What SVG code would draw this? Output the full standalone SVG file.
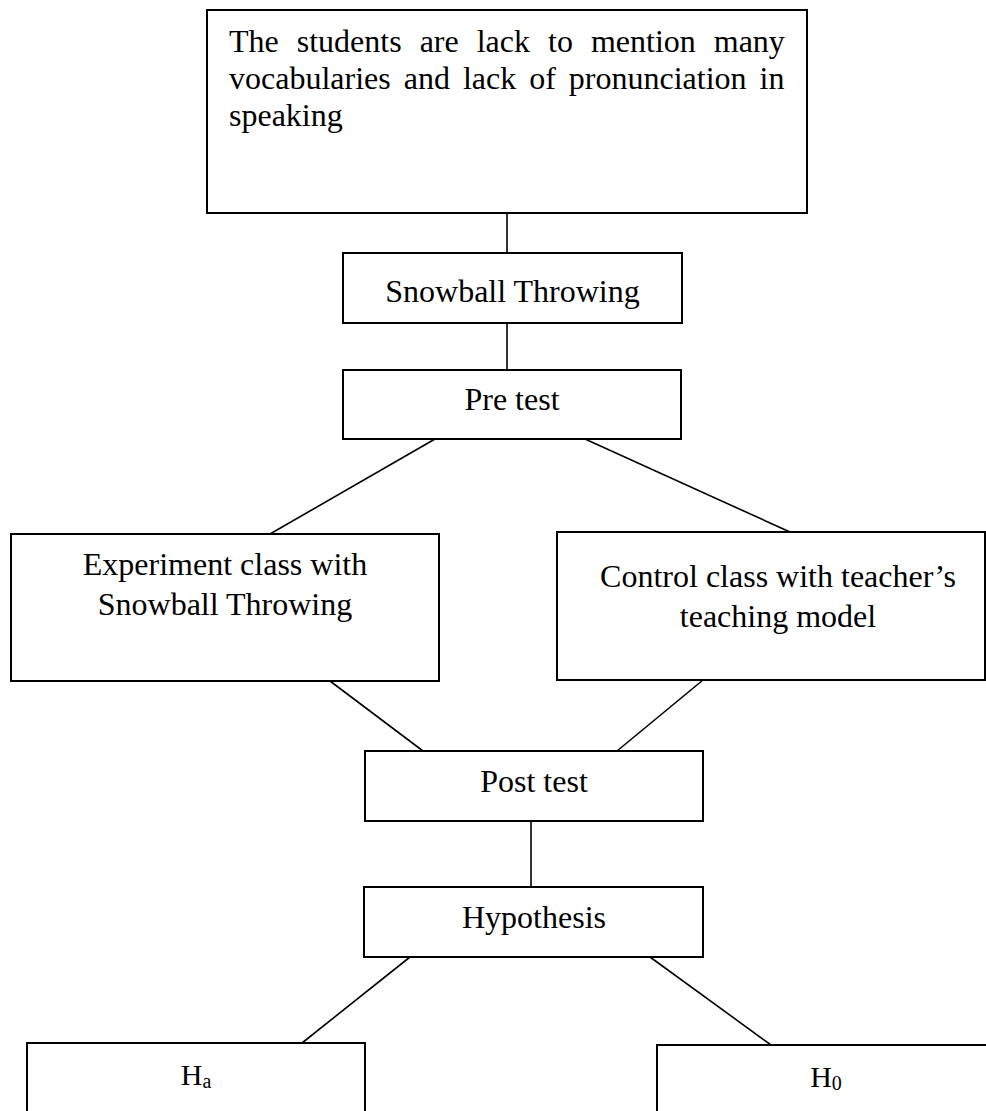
<svg xmlns="http://www.w3.org/2000/svg" width="986" height="1111" viewBox="0 0 986 1111">
<style>
.box{fill:#fff;stroke:#000;stroke-width:2}
.ln{stroke:#000;stroke-width:1.6;fill:none}
text{font-family:"Liberation Serif","Times New Roman",serif;font-size:32px;fill:#000}
.c{text-anchor:middle}
.h{font-size:30px}
.sub{font-size:20px}
</style>
<rect width="986" height="1111" fill="#fff"/>
<g id="connectors">
<line class="ln" x1="507" y1="213" x2="507" y2="253"/>
<line class="ln" x1="507" y1="323" x2="507" y2="370"/>
<line class="ln" x1="435" y1="439" x2="270" y2="534"/>
<line class="ln" x1="585" y1="439" x2="790" y2="532"/>
<line class="ln" x1="330" y1="681" x2="423" y2="751"/>
<line class="ln" x1="703" y1="680" x2="617" y2="751"/>
<line class="ln" x1="531" y1="821" x2="531" y2="887"/>
<line class="ln" x1="410" y1="957" x2="302" y2="1043"/>
<line class="ln" x1="650" y1="957" x2="771" y2="1045"/>
</g>
<g id="problem">
<rect class="box" x="207" y="10" width="600" height="203"/>
<text x="229" y="52" style="word-spacing:10px">The students are lack to mention many</text>
<text x="229" y="89" style="word-spacing:5px">vocabularies and lack of pronunciation in</text>
<text x="229" y="126">speaking</text>
</g>
<g id="snowball">
<rect class="box" x="343" y="253" width="339" height="70"/>
<text class="c" x="512.5" y="302">Snowball Throwing</text>
</g>
<g id="pretest">
<rect class="box" x="343" y="370" width="338" height="69"/>
<text class="c" x="512" y="410">Pre test</text>
</g>
<g id="experiment">
<rect class="box" x="11" y="534" width="428" height="147"/>
<text class="c" x="225" y="575">Experiment class with</text>
<text class="c" x="225" y="615">Snowball Throwing</text>
</g>
<g id="control">
<rect class="box" x="557" y="532" width="428" height="148"/>
<text class="c" x="778" y="587">Control class with teacher’s</text>
<text class="c" x="778" y="627">teaching model</text>
</g>
<g id="posttest">
<rect class="box" x="365" y="751" width="338" height="70"/>
<text class="c" x="534" y="792">Post test</text>
</g>
<g id="hypothesis">
<rect class="box" x="364" y="887" width="339" height="70"/>
<text class="c" x="534" y="928">Hypothesis</text>
</g>
<g id="ha">
<rect class="box" x="27" y="1043" width="338" height="80"/>
<text class="c h" x="196" y="1085">H<tspan class="sub" dy="3">a</tspan></text>
</g>
<g id="h0">
<rect class="box" x="657" y="1045" width="338" height="80"/>
<text class="c h" x="826" y="1087">H<tspan class="sub" dy="3">0</tspan></text>
</g>
</svg>
